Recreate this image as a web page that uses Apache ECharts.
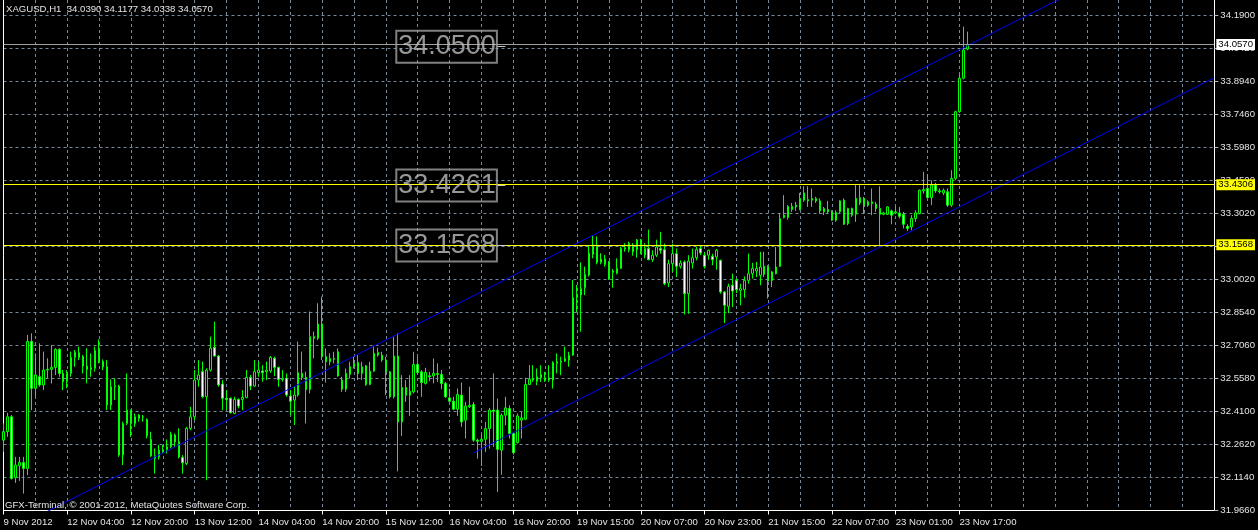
<!DOCTYPE html>
<html><head><meta charset="utf-8">
<script src="https://cdn.jsdelivr.net/npm/echarts@6/dist/echarts.min.js"></script>
<style>html,body{margin:0;padding:0;background:#000;overflow:hidden}#c{width:1258px;height:530px}</style>
</head><body><div id="c"></div>
<script>
// ---------- data ----------
const symbolTitle = 'XAGUSD,H1';
const lastQuote = ['34.0390', '34.1177', '34.0338', '34.0570'];
const copyright = 'GFX-Terminal, \u00a9 2001-2012, MetaQuotes Software Corp.';
const timeTickLabels = ['9 Nov 2012','12 Nov 04:00','12 Nov 20:00','13 Nov 12:00','14 Nov 04:00','14 Nov 20:00','15 Nov 12:00','16 Nov 04:00','16 Nov 20:00','19 Nov 15:00','20 Nov 07:00','20 Nov 23:00','21 Nov 15:00','22 Nov 07:00','23 Nov 01:00','23 Nov 17:00'];
const priceTickLabels = ['31.9660','32.1140','32.2620','32.4100','32.5580','32.7060','32.8540','33.0020','33.1540','33.3020','33.4500','33.5980','33.7460','33.8940','34.0420','34.1900'];

const opens = [32.282,32.320,32.387,32.114,32.167,32.182,32.155,32.725,32.515,32.567,32.530,32.597,32.600,32.609,32.690,32.582,32.545,32.582,32.654,32.675,
32.657,32.615,32.600,32.605,32.687,32.635,32.612,32.440,32.522,32.525,32.215,32.357,32.414,32.357,32.380,32.386,32.375,32.285,32.212,32.207,
32.230,32.240,32.252,32.305,32.275,32.204,32.177,32.335,32.387,32.552,32.590,32.477,32.597,32.699,32.660,32.534,32.470,32.470,32.402,32.465,
32.465,32.474,32.564,32.525,32.585,32.593,32.590,32.593,32.650,32.609,32.555,32.560,32.480,32.462,32.485,32.582,32.564,32.510,32.747,32.740,
32.804,32.657,32.634,32.649,32.679,32.552,32.511,32.577,32.612,32.631,32.582,32.616,32.532,32.592,32.664,32.664,32.642,32.589,32.477,32.660,
32.364,32.519,32.484,32.499,32.622,32.589,32.537,32.571,32.571,32.577,32.577,32.537,32.472,32.457,32.421,32.484,32.372,32.432,32.442,32.282,
32.277,32.286,32.334,32.417,32.417,32.237,32.394,32.424,32.312,32.271,32.372,32.376,32.532,32.552,32.547,32.562,32.562,32.552,32.552,32.627,
32.631,32.637,32.642,32.664,32.922,32.934,32.967,33.024,33.117,33.152,33.081,33.096,33.084,33.036,33.032,33.054,33.141,33.137,33.156,33.137,
33.182,33.114,33.143,33.093,33.113,33.143,33.138,32.988,33.075,33.120,33.063,33.083,32.940,33.078,33.102,33.143,33.113,33.113,33.108,33.105,
33.090,32.948,32.883,32.978,33.000,32.955,32.958,33.000,33.030,33.042,33.023,33.063,32.997,33.038,33.030,33.063,33.282,33.282,33.318,33.330,
33.318,33.360,33.357,33.360,33.357,33.357,33.308,33.318,33.308,33.270,33.308,33.360,33.255,33.323,33.297,33.348,33.368,33.353,33.345,33.342,
33.323,33.297,33.297,33.312,33.303,33.303,33.297,33.243,33.240,33.278,33.300,33.402,33.413,33.372,33.428,33.402,33.393,33.398,33.338,33.458,
33.758,33.908,34.039];
const highs = [32.357,32.405,32.395,32.207,32.207,32.207,32.755,32.762,32.672,32.717,32.680,32.650,32.710,32.695,32.695,32.597,32.597,32.680,32.687,32.702,
32.665,32.695,32.672,32.702,32.735,32.645,32.642,32.555,32.560,32.530,32.365,32.582,32.420,32.402,32.399,32.395,32.380,32.320,32.245,32.260,
32.260,32.285,32.320,32.312,32.335,32.215,32.342,32.432,32.597,32.642,32.635,32.605,32.747,32.815,32.665,32.552,32.507,32.474,32.477,32.470,
32.507,32.597,32.575,32.642,32.635,32.620,32.635,32.660,32.657,32.612,32.597,32.582,32.507,32.522,32.725,32.680,32.590,32.860,32.770,32.897,
32.927,32.694,32.672,32.679,32.694,32.567,32.604,32.634,32.657,32.664,32.634,32.619,32.634,32.706,32.697,32.679,32.657,32.592,32.747,32.762,
32.574,32.552,32.574,32.679,32.657,32.597,32.607,32.589,32.649,32.627,32.597,32.544,32.514,32.477,32.514,32.541,32.454,32.522,32.454,32.289,
32.307,32.364,32.427,32.582,32.469,32.402,32.477,32.439,32.319,32.402,32.409,32.562,32.619,32.619,32.604,32.619,32.589,32.619,32.637,32.672,
32.657,32.702,32.679,33.002,32.979,33.081,33.062,33.159,33.204,33.197,33.122,33.114,33.087,33.051,33.099,33.152,33.167,33.174,33.167,33.186,
33.186,33.167,33.228,33.135,33.183,33.218,33.165,33.093,33.165,33.143,33.090,33.090,33.113,33.143,33.150,33.158,33.128,33.138,33.120,33.141,
33.093,32.952,32.985,33.030,33.008,32.985,33.018,33.120,33.078,33.083,33.128,33.129,33.068,33.042,33.150,33.303,33.383,33.338,33.348,33.353,
33.393,33.423,33.423,33.413,33.375,33.368,33.330,33.357,33.315,33.315,33.360,33.368,33.326,33.327,33.428,33.428,33.375,33.360,33.413,33.353,
33.423,33.308,33.333,33.318,33.333,33.330,33.308,33.252,33.293,33.315,33.408,33.488,33.477,33.450,33.438,33.413,33.413,33.413,33.495,33.762,
33.927,34.140,34.1177];
const lows = [32.230,32.297,32.105,32.090,32.099,32.042,32.125,32.417,32.477,32.522,32.507,32.560,32.537,32.575,32.567,32.507,32.515,32.567,32.612,32.642,
32.582,32.537,32.567,32.590,32.627,32.597,32.417,32.417,32.462,32.207,32.170,32.350,32.297,32.342,32.365,32.365,32.290,32.207,32.132,32.195,
32.222,32.222,32.245,32.252,32.200,32.132,32.170,32.327,32.372,32.522,32.470,32.102,32.590,32.657,32.522,32.417,32.417,32.402,32.399,32.425,
32.417,32.470,32.507,32.522,32.567,32.545,32.552,32.585,32.570,32.522,32.545,32.477,32.395,32.350,32.477,32.552,32.357,32.492,32.650,32.732,
32.642,32.541,32.619,32.627,32.567,32.499,32.499,32.559,32.604,32.552,32.552,32.526,32.529,32.589,32.657,32.634,32.484,32.469,32.469,32.142,
32.301,32.454,32.391,32.492,32.577,32.477,32.532,32.547,32.537,32.544,32.511,32.472,32.454,32.417,32.391,32.342,32.289,32.427,32.274,32.199,
32.166,32.229,32.244,32.252,32.049,32.127,32.349,32.289,32.217,32.267,32.289,32.372,32.532,32.544,32.529,32.544,32.544,32.544,32.514,32.582,
32.574,32.634,32.612,32.661,32.856,32.769,32.934,33.017,33.099,33.072,33.072,33.062,33.002,32.967,33.027,33.051,33.129,33.126,33.111,33.102,
33.117,33.099,33.090,33.083,33.105,33.120,32.978,32.970,33.038,33.015,33.053,32.847,32.850,33.053,33.090,33.113,33.053,33.093,33.068,33.048,
32.940,32.808,32.853,32.880,32.943,32.888,32.922,32.985,33.008,33.015,32.978,33.015,32.918,32.970,33.027,33.060,33.278,33.273,33.308,33.312,
33.315,33.353,33.330,33.330,33.348,33.300,33.293,33.300,33.267,33.263,33.303,33.249,33.248,33.285,33.263,33.338,33.300,33.330,33.293,33.308,
33.153,33.293,33.294,33.252,33.297,33.278,33.233,33.222,33.225,33.263,33.297,33.390,33.368,33.338,33.393,33.390,33.383,33.330,33.330,33.450,
33.753,33.903,34.0338];
const closes = [32.320,32.387,32.110,32.170,32.182,32.155,32.725,32.515,32.575,32.530,32.597,32.600,32.609,32.690,32.582,32.545,32.582,32.654,32.677,32.654,
32.615,32.600,32.608,32.684,32.638,32.612,32.440,32.522,32.527,32.215,32.357,32.417,32.357,32.387,32.395,32.387,32.302,32.212,32.200,32.237,
32.240,32.252,32.309,32.275,32.207,32.180,32.335,32.387,32.552,32.575,32.477,32.597,32.695,32.660,32.530,32.470,32.465,32.405,32.465,32.435,
32.474,32.564,32.525,32.590,32.597,32.585,32.597,32.654,32.609,32.555,32.560,32.485,32.457,32.485,32.585,32.564,32.510,32.747,32.740,32.804,
32.657,32.634,32.649,32.646,32.571,32.511,32.582,32.612,32.627,32.582,32.612,32.532,32.592,32.672,32.676,32.642,32.589,32.477,32.660,32.364,
32.519,32.484,32.502,32.622,32.586,32.541,32.586,32.567,32.582,32.582,32.537,32.477,32.457,32.421,32.487,32.364,32.435,32.439,32.282,32.277,
32.286,32.334,32.417,32.412,32.241,32.394,32.427,32.312,32.226,32.391,32.382,32.532,32.556,32.559,32.567,32.577,32.552,32.562,32.631,32.634,
32.637,32.649,32.664,32.922,32.937,32.964,33.027,33.122,33.159,33.081,33.096,33.072,33.006,33.042,33.054,33.144,33.147,33.167,33.129,33.182,
33.129,33.144,33.093,33.113,33.150,33.135,32.985,33.075,33.120,33.063,33.078,32.940,33.087,33.102,33.138,33.123,33.063,33.135,33.093,33.135,
32.948,32.888,32.973,32.952,32.958,32.963,33.000,33.030,33.053,33.053,33.060,33.027,33.063,33.000,33.060,33.278,33.293,33.333,33.333,33.338,
33.368,33.393,33.363,33.368,33.368,33.312,33.323,33.308,33.270,33.305,33.357,33.252,33.323,33.293,33.368,33.372,33.338,33.338,33.353,33.323,
33.297,33.303,33.330,33.293,33.308,33.288,33.252,33.233,33.278,33.303,33.405,33.408,33.372,33.428,33.402,33.398,33.405,33.338,33.458,33.758,
33.908,34.035,34.0570];

const bidPrice = 34.0570;
const levelPrices = [33.4306, 33.1568];
const textLabelPrices = [34.0500, 33.4261, 33.1568];
const textLabelBar = 124;          // bar index the text objects are anchored to
const channelUpper = [[0, 31.862], [270, 34.308]];
const channelLower = [[118, 32.225], [304, 33.910]];

// ---------- layout constants ----------
const totalSlots = 305;
const priceMin = 31.966, priceStep = 0.148267, priceMax = 34.2597;
const FONT = '"Liberation Sans", Arial, sans-serif';
const GRID = '#778899', FG = '#e4e4e4';

const candleData = opens.map((o, i) => [o, closes[i], lows[i], highs[i]]);
const slots = Array.from({length: totalSlots}, (_, i) => String(i));
const labelEvery = 16;
const isLabelIdx = i => i % labelEvery === 0 && i / labelEvery < timeTickLabels.length;

const chart = echarts.init(document.getElementById('c'), null, {renderer: 'canvas'});
chart.setOption({
  animation: false,
  backgroundColor: '#000',
  grid: {left: 3.5, right: 38, top: 0, bottom: 19.5, containLabel: false},
  xAxis: [{
    type: 'category', data: slots, boundaryGap: false, position: 'bottom', offset: 3,
    axisLine: {lineStyle: {color: '#fff', width: 1}},
    axisTick: {show: true, interval: isLabelIdx, length: 4, lineStyle: {color: '#fff'}},
    axisLabel: {interval: isLabelIdx, formatter: (v, i) => timeTickLabels[i / labelEvery] || '',
      align: 'left', margin: 4, color: FG, fontFamily: FONT, fontSize: 9.6},
    splitLine: {show: true, interval: i => i % 8 === 0, lineStyle: {color: GRID, type: [3, 3], width: 1}}
  }, {
    type: 'value', min: 0, max: totalSlots - 1, show: false
  }],
  yAxis: [{
    type: 'value', min: priceMin, max: priceMax, position: 'left', offset: 2,
    axisLine: {show: true, lineStyle: {color: '#fff'}},
    axisTick: {show: false}, axisLabel: {show: false}, splitLine: {show: false}
  }, {
    type: 'value', min: 0, max: (priceMax - priceMin) / priceStep, interval: 1, position: 'right',
    axisLine: {show: true, lineStyle: {color: '#fff'}},
    axisTick: {show: true, length: 4, lineStyle: {color: '#bbbbbb'}},
    axisLabel: {margin: 6, color: FG, fontFamily: FONT, fontSize: 9.6, showMaxLabel: false,
      formatter: v => { const k = Math.round(v); return Math.abs(v - k) < 1e-6 ? (priceTickLabels[k] || '') : ''; }},
    splitLine: {show: true, showMaxLine: false, lineStyle: {color: GRID, type: [3, 3], width: 1}}
  }],
  series: [{
    type: 'candlestick', xAxisIndex: 0, yAxisIndex: 0, data: candleData, barWidth: 2, clip: false,
    itemStyle: {color: '#000', color0: '#fff', borderColor: '#00ff00', borderColor0: '#00ff00', borderWidth: 1},
    markLine: {
      silent: true, symbol: 'none', animation: false,
      label: {position: 'end', distance: 2, fontFamily: FONT, fontSize: 9.6, color: '#000', padding: [1, 2, 0, 2]},
      data: [
        {yAxis: bidPrice, lineStyle: {color: '#a0a0a0', type: 'solid', width: 1},
          label: {formatter: bidPrice.toFixed(4), backgroundColor: '#fff'}},
        ...levelPrices.map(p => ({yAxis: p, lineStyle: {color: '#ffff00', type: 'solid', width: 1},
          label: {formatter: p.toFixed(4), backgroundColor: '#ffff00'}}))
      ]
    }
  }, {
    type: 'line', xAxisIndex: 1, yAxisIndex: 0, data: channelUpper, showSymbol: false, symbol: 'none',
    lineStyle: {color: '#0000ff', width: 1}, clip: true, silent: true
  }, {
    type: 'line', xAxisIndex: 1, yAxisIndex: 0, data: channelLower, showSymbol: false, symbol: 'none',
    lineStyle: {color: '#0000ff', width: 1}, clip: true, silent: true
  }, {
    type: 'scatter', xAxisIndex: 1, yAxisIndex: 0, symbolSize: 1, itemStyle: {color: 'rgba(0,0,0,0)'},
    data: textLabelPrices.map(p => [textLabelBar, p]), silent: true, z: 5,
    label: {show: true, position: 'left', distance: 0, formatter: p => p.value[1].toFixed(4),
      color: '#bdbdbd', fontFamily: FONT, fontSize: 27, lineHeight: 30,
      borderColor: '#a0a0a0', borderWidth: 1, padding: [1, 1, 1, 2], backgroundColor: 'rgba(0,0,0,0)'},
    markLine: {silent: true, symbol: 'none', animation: false, label: {show: false},
      lineStyle: {color: '#c8c8c8', type: 'solid', width: 1},
      data: textLabelPrices.map(p => [{coord: [textLabelBar, p]}, {coord: [textLabelBar + 2, p]}])}
  }],
  graphic: [
    {type: 'text', left: 6, top: 4.5, silent: true, z: 10,
      style: {text: symbolTitle + '  ' + lastQuote.join(' '), fill: FG, font: '9.6px ' + FONT}},
    {type: 'text', left: 5, top: 500, silent: true, z: 10,
      style: {text: copyright, fill: FG, font: '9.6px ' + FONT}}
  ]
});
</script>
</body></html>
